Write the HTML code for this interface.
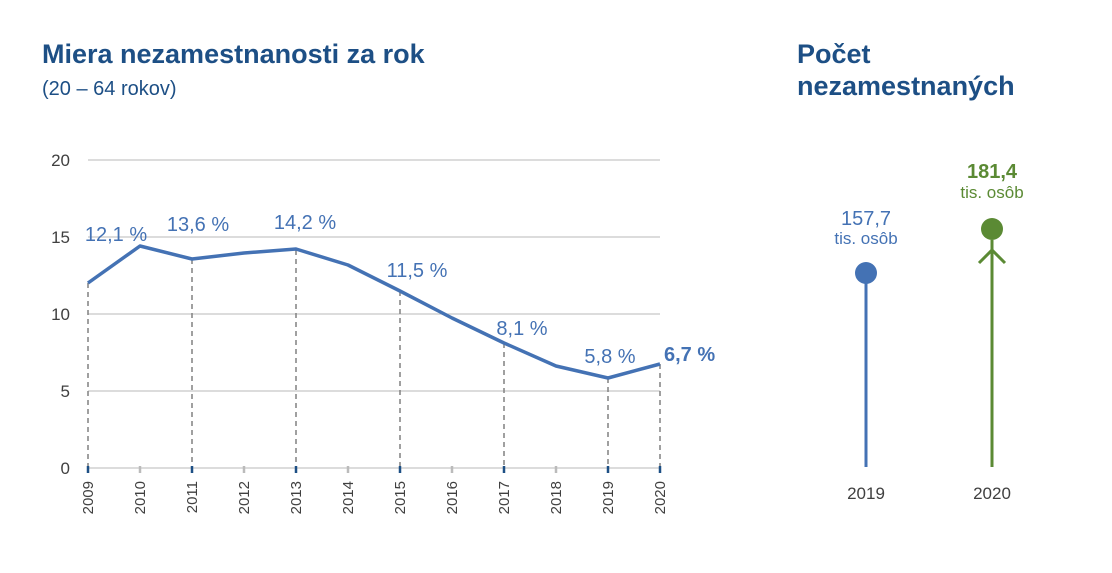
<!DOCTYPE html>
<html><head><meta charset="utf-8"><style>
body{margin:0;background:#fff;}
svg{display:block;font-family:"Liberation Sans",Arial,sans-serif;}
</style></head><body>
<svg width="1112" height="573" viewBox="0 0 1112 573">
<text x="42" y="63" font-size="27" font-weight="bold" fill="#1d4f85">Miera nezamestnanosti za rok</text>
<text x="42" y="95" font-size="20" fill="#1d4f85">(20 – 64 rokov)</text>
<text x="797" y="63" font-size="27" font-weight="bold" fill="#1d4f85">Počet</text>
<text x="797" y="95" font-size="27" font-weight="bold" fill="#1d4f85">nezamestnaných</text>
<g stroke="#c8c8c8" stroke-width="1.3">
<line x1="88" y1="160" x2="660" y2="160"/><line x1="88" y1="237" x2="660" y2="237"/>
<line x1="88" y1="314" x2="660" y2="314"/><line x1="88" y1="391" x2="660" y2="391"/>
<line x1="88" y1="468" x2="660" y2="468"/>
</g>
<g font-size="17" fill="#404040" text-anchor="end">
<text x="70" y="166">20</text><text x="70" y="243">15</text><text x="70" y="320">10</text><text x="70" y="397">5</text><text x="70" y="474">0</text>
</g>
<g stroke="#888" stroke-width="1.6" stroke-dasharray="5,4">
<line x1="88" y1="283" x2="88" y2="468"/><line x1="192" y1="259" x2="192" y2="468"/>
<line x1="296" y1="250" x2="296" y2="468"/><line x1="400" y1="291" x2="400" y2="468"/>
<line x1="504" y1="343" x2="504" y2="468"/><line x1="608" y1="378" x2="608" y2="468"/>
<line x1="660" y1="364" x2="660" y2="468"/>
</g>
<g stroke-width="2.5">
<line x1="88" y1="466" x2="88" y2="473" stroke="#1d4f85"/><line x1="140" y1="466" x2="140" y2="473" stroke="#bbb"/>
<line x1="192" y1="466" x2="192" y2="473" stroke="#1d4f85"/><line x1="244" y1="466" x2="244" y2="473" stroke="#bbb"/>
<line x1="296" y1="466" x2="296" y2="473" stroke="#1d4f85"/><line x1="348" y1="466" x2="348" y2="473" stroke="#bbb"/>
<line x1="400" y1="466" x2="400" y2="473" stroke="#1d4f85"/><line x1="452" y1="466" x2="452" y2="473" stroke="#bbb"/>
<line x1="504" y1="466" x2="504" y2="473" stroke="#1d4f85"/><line x1="556" y1="466" x2="556" y2="473" stroke="#bbb"/>
<line x1="608" y1="466" x2="608" y2="473" stroke="#1d4f85"/><line x1="660" y1="466" x2="660" y2="473" stroke="#1d4f85"/>
</g>
<polyline fill="none" stroke="#4472b4" stroke-width="3.5" stroke-linejoin="round" points="88,283 140,246 192,259 244,253 296,249 348,265 400,291 452,318 504,343 556,366 608,378 660,364"/>
<g font-size="20" fill="#4472b4" text-anchor="middle">
<text x="116" y="241">12,1 %</text><text x="198" y="231">13,6 %</text><text x="305" y="229">14,2 %</text>
<text x="417" y="277">11,5 %</text><text x="522" y="335">8,1 %</text><text x="610" y="363">5,8 %</text>
</g>
<text x="664" y="361" font-size="20" font-weight="bold" fill="#4472b4">6,7 %</text>
<g font-size="15" fill="#404040" text-anchor="end">
<text transform="translate(93,481) rotate(-90)">2009</text><text transform="translate(145,481) rotate(-90)">2010</text>
<text transform="translate(197,481) rotate(-90)">2011</text><text transform="translate(249,481) rotate(-90)">2012</text>
<text transform="translate(301,481) rotate(-90)">2013</text><text transform="translate(353,481) rotate(-90)">2014</text>
<text transform="translate(405,481) rotate(-90)">2015</text><text transform="translate(457,481) rotate(-90)">2016</text>
<text transform="translate(509,481) rotate(-90)">2017</text><text transform="translate(561,481) rotate(-90)">2018</text>
<text transform="translate(613,481) rotate(-90)">2019</text><text transform="translate(665,481) rotate(-90)">2020</text>
</g>
<line x1="866" y1="273" x2="866" y2="467" stroke="#4472b4" stroke-width="3"/>
<circle cx="866" cy="273" r="11" fill="#4472b4"/>
<text x="866" y="225" font-size="20" fill="#4472b4" text-anchor="middle">157,7</text>
<text x="866" y="244" font-size="17" fill="#4472b4" text-anchor="middle">tis. osôb</text>
<line x1="992" y1="240" x2="992" y2="467" stroke="#5b8a34" stroke-width="3"/>
<polyline points="979,263 992,250 1005,263" fill="none" stroke="#5b8a34" stroke-width="3"/>
<circle cx="992" cy="229" r="11" fill="#5b8a34"/>
<text x="992" y="178" font-size="20" font-weight="bold" fill="#5b8a34" text-anchor="middle">181,4</text>
<text x="992" y="198" font-size="17" fill="#5b8a34" text-anchor="middle">tis. osôb</text>
<text x="866" y="499" font-size="17" fill="#404040" text-anchor="middle">2019</text>
<text x="992" y="499" font-size="17" fill="#404040" text-anchor="middle">2020</text>
</svg>
</body></html>
